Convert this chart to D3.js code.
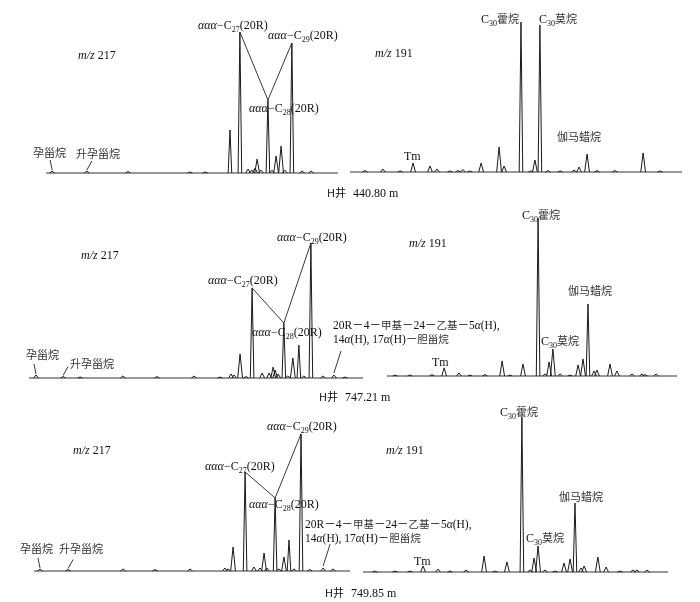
<!DOCTYPE html>
<html><head><meta charset="utf-8">
<script src="https://cdn.jsdelivr.net/npm/d3@7"></script>
<style>
body{margin:0;background:#fff}
text{font-family:"Liberation Serif","Noto Sans CJK SC",serif;font-size:12px;fill:#111}
.cn{font-family:"Noto Sans CJK SC",sans-serif;font-size:11px;font-weight:400;fill:#333}
.m{font-size:11.5px}
.m .cn{font-size:10.5px}
</style>
</head><body><svg id="c" width="700" height="602">
<defs><filter id="gray" x="0" y="0" width="700" height="602" filterUnits="userSpaceOnUse"><feColorMatrix type="saturate" values="0"/></filter></defs>
</svg>
<script>
// ---- data: [relative retention (0-100 across trace), relative intensity (% of tallest peak)] ----
const peaks217_440 = [[2.1,1.4],[14.0,1.4],[28.1,1.1],[49.3,0.7],[54.5,0.7],[63.0,30.5],[66.4,100],[69.2,2.8],[70.5,2.1],[71.6,3.5],[72.3,9.9],[73.6,2.1],[76.0,51.8],[77.4,2.0],[78.8,12.1],[80.5,19.1],[81.8,2.0],[84.2,92.2],[87.7,1.4],[90.8,1.4]];
const peaks191_440 = [[4.5,1.0],[9.9,2.0],[15.1,0.7],[19.0,6.0],[24.1,4.0],[26.2,2.0],[30.1,0.7],[32.5,1.0],[34.0,1.7],[36.1,0.7],[39.5,6.0],[44.9,16.7],[46.4,4.0],[51.5,100],[54.5,0.7],[55.7,8.0],[57.2,98.0],[59.6,1.0],[63.3,0.7],[67.5,1.3],[69.0,3.3],[71.4,12.0],[74.4,1.0],[79.8,1.0],[88.3,12.7],[93.4,0.7]];
const peaks217_747 = [[2.1,2.2],[10.2,1.1],[15.3,0.7],[28.1,1.5],[38.3,1.1],[49.4,1.5],[57.2,0.7],[60.5,3.0],[61.4,2.2],[63.2,17.8],[65.0,1.1],[66.8,66.7],[69.8,3.7],[71.9,3.7],[73.1,8.1],[73.7,5.9],[74.6,3.0],[76.3,40.7],[77.5,1.5],[79.0,14.8],[80.8,24.4],[82.3,1.5],[84.4,100],[88.0,1.5],[91.3,2.2],[94.6,0.7]];
const peaks191_747 = [[2.8,0.6],[7.9,0.6],[15.5,0.9],[19.7,5.1],[24.8,1.9],[28.6,0.6],[33.8,0.9],[39.7,9.5],[42.4,0.6],[46.9,7.6],[52.1,100],[54.5,1.3],[55.9,8.9],[57.2,17.1],[59.7,1.3],[63.1,0.6],[65.9,7.0],[67.6,10.8],[69.3,45.6],[71.4,3.2],[72.4,3.8],[76.9,7.6],[79.3,3.2],[84.5,1.3],[87.9,1.3],[89.0,0.9],[92.8,1.3]];
const peaks217_749 = [[1.9,1.5],[10.8,1.1],[28.2,1.5],[38.3,1.1],[49.4,1.5],[60.4,2.2],[61.4,1.5],[63.0,17.5],[66.8,72.3],[69.6,2.9],[71.5,2.2],[72.8,13.1],[73.7,2.2],[76.3,53.3],[77.5,1.5],[79.1,10.2],[80.7,22.6],[82.3,1.5],[84.5,100],[87.3,1.1],[91.5,2.2],[94.6,1.5]];
const peaks191_749 = [[3.9,0.6],[10.5,0.6],[15.4,0.6],[19.7,3.9],[24.6,1.9],[28.5,0.6],[33.8,1.3],[39.7,10.3],[43.3,0.6],[47.2,6.5],[52.1,100],[54.8,1.3],[56.1,9.0],[57.4,16.8],[59.7,1.3],[63.0,0.6],[65.9,5.8],[67.9,8.4],[69.5,44.5],[71.5,2.6],[72.5,3.9],[77.0,9.7],[79.7,3.2],[84.3,0.6],[88.5,1.3],[89.8,1.3],[93.1,1.3]];
// index of labelled peaks in the m/z 217 traces: [pregnane, homopregnane, C27, C28, C29, 4-methyl sterane]
const steranePeakIdx440 = [0,1,6,12,17,null];
const steranePeakIdx747 = [0,1,11,17,22,24];
const steranePeakIdx749 = [0,1,8,13,18,20];
const wells = ["440.80 m","747.21 m","749.85 m"];
const ionLabels = ["m/z 217","m/z 191"];

// ---- layout ----
const svg = d3.select("#c");
const root = svg.append("g").attr("filter","url(#gray)");
root.append("rect").attr("width",700).attr("height",602).attr("fill","#fff");
const traces = [
  {peaks:peaks217_440, x0:46,  x1:338, base:173, full:141},
  {peaks:peaks191_440, x0:350, x1:682, base:172, full:150},
  {peaks:peaks217_747, x0:29,  x1:363, base:378, full:135},
  {peaks:peaks191_747, x0:387, x1:677, base:376, full:158},
  {peaks:peaks217_749, x0:34,  x1:350, base:571, full:137},
  {peaks:peaks191_749, x0:363, x1:668, base:572, full:155}
];
const line = d3.line();
traces.forEach(t=>{
  t.x = d3.scaleLinear().domain([0,100]).range([t.x0,t.x1]);
  t.y = d3.scaleLinear().domain([0,100]).range([t.base,t.base-t.full]);
  const g = root.append("g");
  g.append("path").attr("d",line([[t.x(0),t.y(0)],[t.x(100),t.y(0)]]))
    .attr("stroke","#333").attr("stroke-width",1).attr("fill","none");
  t.peaks.forEach(p=>{
    const hw = p[1]>20?1.8:2.4;
    const cx=t.x(p[0]), cy=t.y(p[1]), b=t.y(0);
    g.append("path").attr("d",line([[cx-hw,b],[cx,cy],[cx+hw,b]]))
      .attr("stroke","#1a1a1a").attr("stroke-width",1).attr("fill","none");
  });
});
function apex(t,i){return [t.x(t.peaks[i][0]), t.y(t.peaks[i][1])];}

function ionLabel(x,y,s){
  const [a,b]=s.split(" ");
  const t=root.append("text").attr("x",x).attr("y",y);
  t.append("tspan").attr("font-style","italic").text(a);
  t.append("tspan").text(" "+b);
}
function steraneLabel(x,y,n){
  const t=root.append("text").attr("x",x).attr("y",y);
  t.append("tspan").attr("font-style","italic").text("ααα");
  t.append("tspan").text("−C");
  t.append("tspan").attr("font-size",8).attr("dy",3).text(n);
  t.append("tspan").attr("dy",-3).text("(20R)");
}
function hopLabel(x,y,n,cn){
  const t=root.append("text").attr("x",x).attr("y",y);
  t.append("tspan").text("C");
  t.append("tspan").attr("font-size",8).attr("dy",3).text(n);
  t.append("tspan").attr("dy",-3).attr("class","cn").style("font-size","11px").text(cn);
}
function cnLabel(x,y,s){root.append("text").attr("class","cn").attr("x",x).attr("y",y).text(s);}
function txt(x,y,s){root.append("text").attr("x",x).attr("y",y).text(s);}
function seg(a,b){root.append("line").attr("x1",a[0]).attr("y1",a[1]).attr("x2",b[0]).attr("y2",b[1]).attr("stroke","#222").attr("stroke-width",0.9);}
function methylLabel(x,y){
  const t1=root.append("text").attr("class","m").attr("x",x).attr("y",y);
  t1.append("tspan").text("20R－4－");
  t1.append("tspan").attr("class","cn").text("甲基");
  t1.append("tspan").text("－24－");
  t1.append("tspan").attr("class","cn").text("乙基");
  t1.append("tspan").text("－5");
  t1.append("tspan").attr("font-style","italic").text("α");
  t1.append("tspan").text("(H),");
  const t2=root.append("text").attr("class","m").attr("x",x).attr("y",y+14);
  t2.append("tspan").text("14");
  t2.append("tspan").attr("font-style","italic").text("α");
  t2.append("tspan").text("(H), 17");
  t2.append("tspan").attr("font-style","italic").text("α");
  t2.append("tspan").text("(H)－");
  t2.append("tspan").attr("class","cn").text("胆甾烷");
}
function wellLabel(x,y,s){
  const t=root.append("text").attr("x",x).attr("y",y);
  t.append("tspan").attr("class","cn").style("fill","#111").text("H井");
  t.append("tspan").attr("dx",7).text(s);
}

// ---- panel annotations ----
const sterCfg = [
  {t:traces[0], idx:steranePeakIdx440, ion:[78,59], c27:[198,29], c29:[268,39], c28:[249,112], preg:[33,157], homo:[76,158], well:[327,197], methyl:null},
  {t:traces[2], idx:steranePeakIdx747, ion:[81,259], c27:[208,284], c29:[277,241], c28:[252,336], preg:[26,359], homo:[70,368], well:[319,401], methyl:[333,329]},
  {t:traces[4], idx:steranePeakIdx749, ion:[73,454], c27:[205,470], c29:[267,430], c28:[249,508], preg:[20,553], homo:[59,553], well:[325,597], methyl:[305,528]}
];
sterCfg.forEach((c,k)=>{
  const t=c.t;
  ionLabel(c.ion[0],c.ion[1],ionLabels[0]);
  steraneLabel(c.c27[0],c.c27[1],"27");
  steraneLabel(c.c29[0],c.c29[1],"29");
  steraneLabel(c.c28[0],c.c28[1],"28");
  const a27=apex(t,c.idx[2]), a28=apex(t,c.idx[3]), a29=apex(t,c.idx[4]);
  seg(a27,a28); seg(a28,a29);
  cnLabel(c.preg[0],c.preg[1],"孕甾烷");
  cnLabel(c.homo[0],c.homo[1],"升孕甾烷");
  const ap=apex(t,c.idx[0]); seg([ap[0]-2,ap[1]-11],[ap[0],ap[1]-1]);
  const ah=apex(t,c.idx[1]); seg([ah[0]+5,ah[1]-10],[ah[0],ah[1]-1]);
  if(c.methyl){
    methylLabel(c.methyl[0],c.methyl[1]);
    const am=apex(t,c.idx[5]); seg([am[0]+7,am[1]-24],[am[0],am[1]-2]);
  }
  wellLabel(c.well[0],c.well[1],wells[k]);
});
const hopCfg = [
  {ion:[375,57], hop:[481,23], mor:[539,23], tm:[404,160], gam:[557,141]},
  {ion:[409,247], hop:[522,219], mor:[541,345], tm:[432,366], gam:[568,295]},
  {ion:[386,454], hop:[500,416], mor:[526,542], tm:[414,565], gam:[559,501]}
];
hopCfg.forEach(c=>{
  ionLabel(c.ion[0],c.ion[1],ionLabels[1]);
  hopLabel(c.hop[0],c.hop[1],"30","藿烷");
  hopLabel(c.mor[0],c.mor[1],"30","莫烷");
  txt(c.tm[0],c.tm[1],"Tm");
  cnLabel(c.gam[0],c.gam[1],"伽马蜡烷");
});
</script></body></html>
